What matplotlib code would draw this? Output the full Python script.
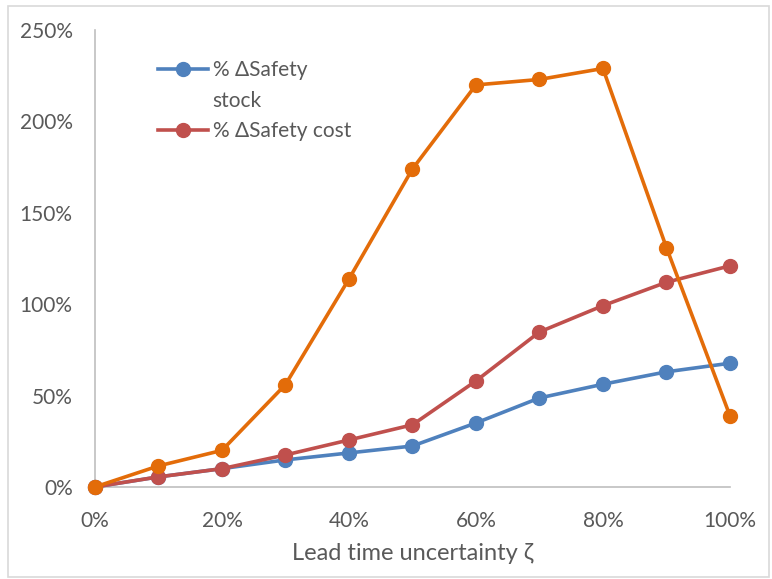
import numpy as np
import matplotlib.pyplot as plt
from matplotlib.lines import Line2D
from matplotlib.patches import Rectangle
from matplotlib.ticker import FuncFormatter

plt.rcParams['font.family'] = ['Lato', 'DejaVu Sans']

zeta = [0.0, 0.1, 0.2, 0.3, 0.4, 0.5, 0.6, 0.7, 0.8, 0.9, 1.0]
safety_stock = [0.0, 0.055, 0.10, 0.148, 0.186, 0.224, 0.35, 0.487, 0.562, 0.63, 0.677]
safety_cost = [0.0, 0.055, 0.10, 0.175, 0.257, 0.34, 0.58, 0.848, 0.992, 1.12, 1.21]
third_series = [0.0, 0.115, 0.20, 0.56, 1.138, 1.74, 2.20, 2.23, 2.29, 1.31, 0.39]

blue = '#4F81BD'
red = '#C0504D'
orange = '#E36C09'
grey_txt = '#595959'

fig = plt.figure(figsize=(7.72, 5.79), dpi=100)
ax = fig.add_axes([0.123, 0.159, 0.8225, 0.789])

# outer frame like the exported chart area
fig.patches.append(Rectangle((0.011, 0.004), 0.985, 0.986, transform=fig.transFigure,
                             fill=False, edgecolor='#d9d9d9', linewidth=1.2))

kw = dict(marker='o', markersize=10, linewidth=2.6, clip_on=False, zorder=3)
l1, = ax.plot(zeta, safety_stock, color=blue, label='% ΔSafety stock', **kw)
l2, = ax.plot(zeta, safety_cost, color=red, label='% ΔSafety cost', **kw)
ax.plot(zeta, third_series, color=orange, **kw)

ax.set_xlim(0, 1)
ax.set_ylim(0, 2.5)
ax.set_xticks(np.arange(0, 1.01, 0.2))
ax.set_yticks(np.arange(0, 2.51, 0.5))
pct = FuncFormatter(lambda v, p: f'{v*100:.0f}%')
ax.xaxis.set_major_formatter(pct)
ax.yaxis.set_major_formatter(pct)
ax.tick_params(length=0, labelsize=15, colors=grey_txt)
ax.tick_params(axis='x', pad=17)
ax.tick_params(axis='y', pad=16)

for s in ['top', 'right']:
    ax.spines[s].set_visible(False)
for s in ['left', 'bottom']:
    ax.spines[s].set_color('#bfbfbf')
    ax.spines[s].set_linewidth(1.2)

ax.set_xlabel('Lead time uncertainty ζ', fontsize=17, color=grey_txt, labelpad=9)

# legend wraps the first label onto a second line, handle stays on the first
blank = Line2D([], [], linestyle='none', marker=None)
leg = ax.legend([l1, blank, l2], ['% ΔSafety', 'stock', '% ΔSafety cost'],
                loc='upper left', bbox_to_anchor=(0.069, 0.975), frameon=False,
                fontsize=15, handlelength=2.4, handletextpad=0.25, labelspacing=0.5,
                labelcolor=grey_txt)

fig.savefig('out.png', dpi=100)
